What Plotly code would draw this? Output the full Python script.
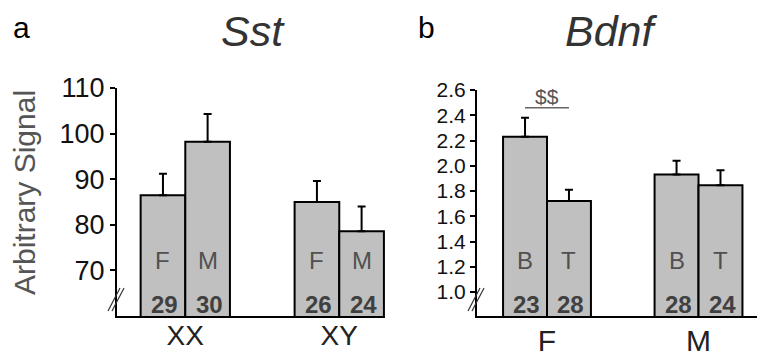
import plotly.graph_objects as go

W, H = 757, 353

# ---- data ----
sst_groups = ["XX", "XY"]
sst_labels = ["F", "M"]
sst_F = [86.5, 85.0]
sst_M = [98.2, 78.6]
sst_F_err = [4.7, 4.6]
sst_M_err = [6.1, 5.4]
sst_F_n = ["29", "26"]
sst_M_n = ["30", "24"]

bdnf_groups = ["F", "M"]
bdnf_labels = ["B", "T"]
bdnf_B = [2.23, 1.93]
bdnf_T = [1.72, 1.845]
bdnf_B_err = [0.15, 0.11]
bdnf_T_err = [0.09, 0.12]
bdnf_B_n = ["23", "28"]
bdnf_T_n = ["28", "24"]

sst_ticks = [70, 80, 90, 100, 110]
bdnf_ticks = [1.0, 1.2, 1.4, 1.6, 1.8, 2.0, 2.2, 2.4, 2.6]

BAR_W = 0.29
FILL = "#c0c0c0"
FONT = "Liberation Sans, Arial, sans-serif"

def px(x):
    return x / W

def py(y):
    return 1 - y / H

fig = go.Figure()

def add_bars(xa, ya, vals, errs, offset):
    fig.add_trace(go.Bar(
        x=[1, 2], y=vals, width=BAR_W, offset=offset,
        xaxis=xa, yaxis=ya,
        marker=dict(color=FILL, line=dict(color="black", width=2)),
        error_y=dict(type="data", symmetric=False, array=errs,
                     arrayminus=[0] * len(errs), color="black",
                     thickness=2, width=4),
        showlegend=False, hoverinfo="skip",
    ))

add_bars("x", "y", sst_F, sst_F_err, -BAR_W)
add_bars("x", "y", sst_M, sst_M_err, 0)
add_bars("x2", "y2", bdnf_B, bdnf_B_err, -BAR_W)
add_bars("x2", "y2", bdnf_T, bdnf_T_err, 0)

ann = []

def A(**kw):
    kw.setdefault("showarrow", False)
    kw.setdefault("xanchor", "center")
    kw.setdefault("yanchor", "middle")
    ann.append(kw)

def bar_texts(xref, yref, letters, n_a, n_b):
    for gi in range(2):
        for k, (letter, nums) in enumerate(zip(letters, (n_a, n_b))):
            cx = gi + 1 + (k - 0.5) * BAR_W
            A(x=cx, y=0.245, xref=xref, yref=yref + " domain", text=letter,
              font=dict(size=24, color="#505050", family=FONT))
            A(x=cx + 0.01, y=0.05, xref=xref, yref=yref + " domain",
              text="<b>" + nums[gi] + "</b>",
              font=dict(size=24, color="#404040", family=FONT))

bar_texts("x", "y", sst_labels, sst_F_n, sst_M_n)
bar_texts("x2", "y2", bdnf_labels, bdnf_B_n, bdnf_T_n)

# panel letters and titles
A(x=px(21), y=py(28), xref="paper", yref="paper", text="a",
  font=dict(size=30, color="black", family=FONT))
A(x=px(426), y=py(28), xref="paper", yref="paper", text="b",
  font=dict(size=30, color="black", family=FONT))
A(x=px(253), y=py(31), xref="paper", yref="paper", text="<i>Sst</i>",
  font=dict(size=43, color="#333333", family=FONT))
A(x=px(611), y=py(31), xref="paper", yref="paper", text="<i>Bdnf</i>",
  font=dict(size=43, color="#333333", family=FONT))
A(x=px(24), y=py(193), xref="paper", yref="paper", text="Arbitrary Signal",
  textangle=-90, font=dict(size=30, color="#555555", family=FONT))
A(x=1.0, y=2.55, xref="x2", yref="y2", text="$$",
  font=dict(size=21, color="#555555", family=FONT))

shapes = [
    dict(type="line", xref="x2", yref="y2", x0=1 - BAR_W / 2, x1=1 + BAR_W / 2,
         y0=2.46, y1=2.46, line=dict(color="#666666", width=1.5)),
]
# axis break marks
for ax_px in (117, 477):
    for dx in (-2, 2):
        shapes.append(dict(type="line", xref="paper", yref="paper",
                           x0=px(ax_px - 7 + dx), y0=py(311),
                           x1=px(ax_px + 5 + dx), y1=py(288),
                           line=dict(color="#333333", width=1.2)))

axis_common = dict(showline=True, linecolor="black", linewidth=2,
                   showgrid=False, zeroline=False, automargin=False)

fig.update_layout(
    template="none",
    width=W, height=H, margin=dict(l=0, r=0, t=0, b=0, pad=0),
    paper_bgcolor="white", plot_bgcolor="white",
    barmode="overlay",
    xaxis=dict(domain=[px(117), px(385)], range=[0.5565, 2.297],
               tickvals=[1, 2], ticktext=sst_groups, ticks="",
               ticklabelstandoff=-7,
               tickfont=dict(size=28, color="#222222", family=FONT),
               anchor="y", **axis_common),
    yaxis=dict(domain=[py(316), py(88)], range=[60, 110],
               tickvals=sst_ticks, ticks="outside", ticklen=5, tickwidth=2,
               tickcolor="black",
               tickfont=dict(size=27, color="#111111", family=FONT),
               anchor="x", **axis_common),
    xaxis2=dict(domain=[px(477), 1.0], range=[0.538, 2.386],
                tickvals=[1, 2], ticktext=bdnf_groups, ticks="",
                ticklabelstandoff=-3,
                tickfont=dict(size=30, color="#222222", family=FONT),
                anchor="y2", **axis_common),
    yaxis2=dict(domain=[py(316), py(90)], range=[0.81, 2.6],
                tickvals=bdnf_ticks, tickformat=".1f",
                ticks="outside", ticklen=5, tickwidth=2, tickcolor="black",
                tickfont=dict(size=21, color="#111111",
                              family="Liberation Sans Narrow, Arial Narrow, Liberation Sans, Arial"),
                anchor="x2", **axis_common),
    annotations=ann,
    shapes=shapes,
)

fig.write_html("out.html", config={"displayModeBar": False},
               post_script="document.body.style.margin='0';")
